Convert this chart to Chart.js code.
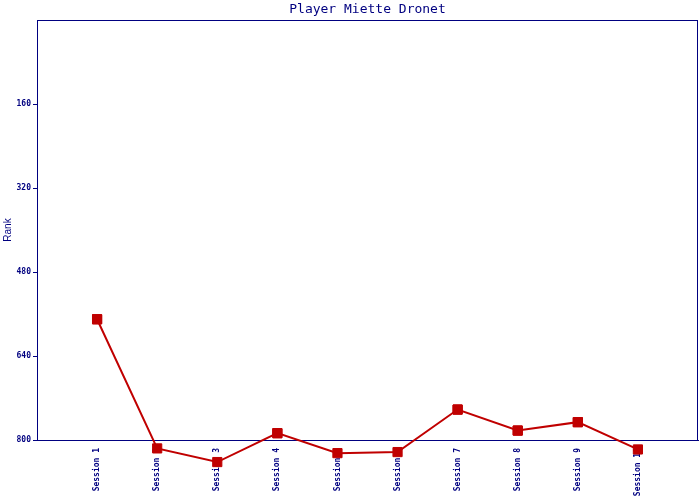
<!DOCTYPE html>
<html>
<head>
<meta charset="utf-8">
<script src="https://cdn.jsdelivr.net/npm/chart.js@4/dist/chart.umd.min.js"></script>
<style>
  body { margin: 0; background: #ffffff; }
  #wrap { width: 700px; height: 500px; }
</style>
</head>
<body>
<div id="wrap"><canvas id="GraficoRank" width="700" height="500"></canvas></div>
<script>
// --- datos ---
const sesiones = ['Session 1', 'Session 2', 'Session 3', 'Session 4', 'Session 5',
                  'Session 6', 'Session 7', 'Session 8', 'Session 9', 'Session 10'];
const rangos = [570, 816, 842, 787, 825, 823, 742, 782, 766, 818];
const ticksRango = [160, 320, 480, 640, 800];

const azul = '#000080';
const rojo = '#C00000';

// un hueco vacio a cada lado, como en el original
const etiquetas = [''].concat(sesiones, ['']);
const valores = [null].concat(rangos, [null]);

// marco alrededor del area del grafico
const marco = {
    id: 'marco',
    beforeDatasetsDraw(chart) {
        const a = chart.chartArea;
        const ctx = chart.ctx;
        ctx.save();
        ctx.strokeStyle = azul;
        ctx.lineWidth = 1;
        ctx.strokeRect(Math.round(a.left) + 0.5, Math.round(a.top) + 0.5,
                       Math.round(a.right - a.left) - 1, Math.round(a.bottom - a.top));
        ctx.restore();
    },
    // los puntos fuera del area tambien se dibujan (Chart.js los omite)
    afterDatasetsDraw(chart) {
        const grande = { left: -1e5, top: -1e5, right: 1e5, bottom: 1e5 };
        chart.getDatasetMeta(0).data.forEach(p => {
            if (!p.skip) p.draw(chart.ctx, grande);
        });
    }
};

const ctx = document.getElementById('GraficoRank').getContext('2d');

new Chart(ctx, {
    type: 'line',
    data: {
        labels: etiquetas,
        datasets: [{
            label: 'Rank',
            data: valores,
            borderColor: rojo,
            backgroundColor: rojo,
            borderWidth: 2,
            pointStyle: 'rect',
            pointRadius: 6.5,
            pointBorderWidth: 1,
            pointBorderColor: rojo,
            pointBackgroundColor: rojo,
            clip: false,
            tension: 0
        }]
    },
    options: {
        responsive: false,
        animation: false,
        events: [],
        layout: { autoPadding: false, padding: { right: 2 } },
        plugins: {
            legend: { display: false },
            tooltip: { enabled: false },
            title: {
                display: true,
                fullSize: false,
                text: 'Player Miette Dronet',
                color: azul,
                font: { family: 'DejaVu Sans Mono', size: 13, weight: 'normal', lineHeight: 1.2 },
                padding: { top: 1.5, bottom: 2.9 }
            }
        },
        scales: {
            x: {
                grid: { display: false },
                border: { display: true, color: azul, width: 1 },
                ticks: {
                    color: azul,
                    autoSkip: false,
                    maxRotation: 90,
                    minRotation: 90,
                    padding: 0,
                    font: { family: 'DejaVu Sans Mono', size: 8, weight: 'bold' }
                },
                afterFit: function(scale) {
                    scale.height = 60;
                    scale.paddingLeft = 0;
                    scale.paddingRight = 0;
                }
            },
            y: {
                reverse: true,
                min: 0,
                max: 800,
                afterBuildTicks: function(scale) {
                    scale.ticks = ticksRango.map(v => ({ value: v }));
                },
                grid: {
                    drawOnChartArea: false,
                    drawTicks: true,
                    tickLength: 4,
                    color: azul
                },
                border: { display: true, color: azul, width: 1 },
                ticks: {
                    color: azul,
                    padding: 2,
                    font: { family: 'DejaVu Sans Mono', size: 8, weight: 'bold' }
                },
                title: {
                    display: true,
                    text: 'Rank',
                    color: azul,
                    padding: { top: 2, bottom: 0 },
                    font: { family: 'Liberation Sans', size: 10 }
                },
                afterFit: function(scale) { scale.width = 37; }
            }
        }
    },
    plugins: [marco]
});
</script>
</body>
</html>
